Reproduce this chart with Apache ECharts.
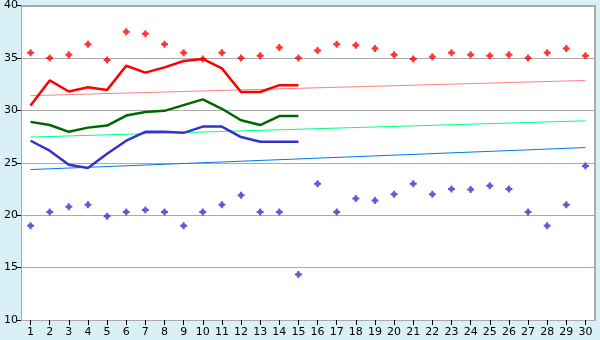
<!DOCTYPE html>
<html>
<head>
<meta charset="utf-8">
<script src="https://cdn.jsdelivr.net/npm/echarts@6/dist/echarts.min.js"></script>
<style>
html,body{margin:0;padding:0;background:#DAF0F7;}
#c{width:600px;height:340px;}
</style>
</head>
<body>
<div id="c"></div>
<script>
var days = ['1','2','3','4','5','6','7','8','9','10','11','12','13','14','15','16','17','18','19','20','21','22','23','24','25','26','27','28','29','30'];
var yTicks = [10, 15, 20, 25, 30, 35, 40];

var maxDots = [35.5,35.0,35.3,36.3,34.8,37.5,37.3,36.3,35.5,34.9,35.5,35.0,35.2,36.0,35.0,35.7,36.3,36.2,35.9,35.3,34.9,35.1,35.5,35.3,35.2,35.3,35.0,35.5,35.9,35.2];
var minDots = [19.0,20.3,20.8,21.0,19.9,20.3,20.5,20.3,19.0,20.3,21.0,21.9,20.3,20.3,14.35,23.0,20.3,21.6,21.4,22.0,23.0,22.0,22.5,22.45,22.8,22.5,20.3,19.0,21.0,24.7];

var maxLine = [30.45,32.85,31.8,32.2,31.95,34.25,33.6,34.1,34.7,34.9,34.0,31.75,31.75,32.4,32.4];
var meanLine = [28.9,28.6,27.95,28.35,28.55,29.5,29.85,29.95,30.5,31.05,30.15,29.05,28.6,29.45,29.45];
var minLine = [27.1,26.15,24.8,24.5,25.85,27.1,27.95,27.95,27.85,28.45,28.45,27.45,27.0,27.0,27.0];

var maxTrend = [31.4, 32.85];
var meanTrend = [27.45, 29.0];
var minTrend = [24.35, 26.45];

var mark = 'path://M2.5,0 H4.5 V1.5 H5.5 V2.5 H7 V4.5 H5.5 V5.5 H4.5 V7 H2.5 V5.5 H1.5 V4.5 H0 V2.5 H1.5 V1.5 H2.5 Z';

function trend(t){ return [[days[0], t[0]], [days[days.length-1], t[1]]]; }

var chart = echarts.init(document.getElementById('c'), null, {renderer:'canvas'});
chart.setOption({
  animation: false,
  backgroundColor: '#DAF0F7',
  grid: {left: 21, right: 5, top: 5, bottom: 20, show: true, backgroundColor: '#FFFFFF', borderWidth: 0},
  xAxis: [{
    type: 'category', data: days, boundaryGap: true, position: 'bottom',
    axisLine: {show: false},
    axisTick: {show: true, alignWithLabel: true, length: 5, lineStyle: {color: '#000'}},
    axisLabel: {color: '#000', fontFamily: 'DejaVu Sans', fontSize: 11, margin: 7, interval: 0},
    splitLine: {show: false}
  }, {
    type: 'category', data: days, position: 'top',
    axisLine: {show: true, lineStyle: {color: '#AAAAAA', width: 2}},
    axisTick: {show: false}, axisLabel: {show: false}
  }],
  yAxis: [{
    type: 'value', min: yTicks[0], max: yTicks[yTicks.length-1], interval: 5,
    axisLine: {show: true, lineStyle: {color: '#AAAAAA', width: 1}},
    axisTick: {show: true, length: 4, lineStyle: {color: '#000'}},
    axisLabel: {color: '#000', fontFamily: 'DejaVu Sans', fontSize: 11, margin: 3},
    splitLine: {show: true, lineStyle: {color: '#AAAAAA', width: 1}}
  }, {
    type: 'value', min: yTicks[0], max: yTicks[yTicks.length-1], interval: 5, position: 'right',
    axisLine: {show: true, lineStyle: {color: '#AAAAAA', width: 2}},
    axisTick: {show: false}, axisLabel: {show: false}, splitLine: {show: false}
  }],
  series: [
    {type: 'line', data: trend(maxTrend), symbol: 'none', lineStyle: {color: '#FF8080', width: 1}, z: 2},
    {type: 'line', data: trend(meanTrend), symbol: 'none', lineStyle: {color: '#00FF80', width: 1}, z: 2},
    {type: 'line', data: trend(minTrend), symbol: 'none', lineStyle: {color: '#0078F0', width: 1}, z: 2},
    {type: 'line', data: maxLine, symbol: 'none', lineStyle: {color: '#FF0000', width: 2.5}, z: 3},
    {type: 'line', data: meanLine, symbol: 'none', lineStyle: {color: '#006600', width: 2.5}, z: 3},
    {type: 'line', data: minLine, symbol: 'none', lineStyle: {color: '#3333CC', width: 2.5}, z: 3},
    {type: 'scatter', data: maxDots, symbol: mark, symbolSize: 7, itemStyle: {color: '#FF0000'}, z: 4},
    {type: 'scatter', data: minDots, symbol: mark, symbolSize: 7, itemStyle: {color: '#3333CC'}, z: 4}
  ]
});
</script>
</body>
</html>
